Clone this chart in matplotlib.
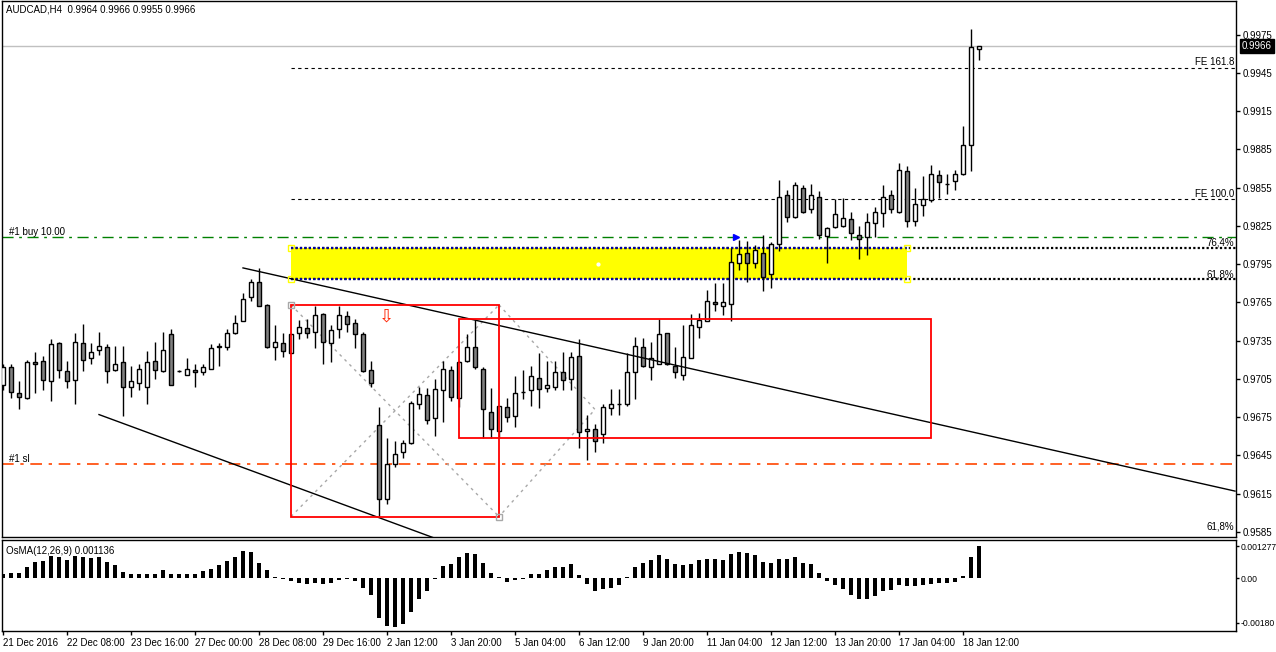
import numpy as np
import matplotlib
matplotlib.use("Agg")
import matplotlib.pyplot as plt
import matplotlib.transforms as mtransforms
from matplotlib.patches import Rectangle

plt.rcParams["font.family"] = ["Liberation Sans", "DejaVu Sans"]

# AUDCAD H4 candles, 21 Dec 2016 .. 18 Jan 2017 (one bar = 4 hours)
opens = [0.9700, 0.9714, 0.9694, 0.9690, 0.9718, 0.9719, 0.9703, 0.9733, 0.9711, 0.9704,
         0.9733, 0.9721, 0.9728, 0.9730, 0.9712, 0.9718, 0.9699, 0.9702, 0.9699, 0.9719,
         0.9711, 0.9740, 0.9711, 0.9708, 0.9712, 0.9710, 0.9713, 0.9731, 0.9730, 0.9741,
         0.9750, 0.9769, 0.9781, 0.9763, 0.9730, 0.9733, 0.9725, 0.9741, 0.9745, 0.9742,
         0.9756, 0.9733, 0.9744, 0.9754, 0.9749, 0.9740, 0.9712, 0.9669, 0.9611, 0.9638,
         0.9648, 0.9655, 0.9685, 0.9692, 0.9674, 0.9696, 0.9712, 0.9690, 0.9719, 0.9730,
         0.9713, 0.9679, 0.9664, 0.9683, 0.9676, 0.9695, 0.9696, 0.9706, 0.9698, 0.9699,
         0.9710, 0.9705, 0.9723, 0.9664, 0.9666, 0.9662, 0.9682, 0.9685, 0.9685, 0.9710,
         0.9730, 0.9714, 0.9717, 0.9741, 0.9715, 0.9708, 0.9721, 0.9746, 0.9750, 0.9765,
         0.9762, 0.9764, 0.9796, 0.9804, 0.9796, 0.9804, 0.9787, 0.9811, 0.9849, 0.9832,
         0.9855, 0.9838, 0.9848, 0.9817, 0.9824, 0.9825, 0.9830, 0.9818, 0.9816, 0.9827,
         0.9835, 0.9849, 0.9836, 0.9868, 0.9829, 0.9841, 0.9845, 0.9865, 0.9858, 0.9860,
         0.9866, 0.9888, 0.9964]
highs = [0.9717, 0.9717, 0.9703, 0.9720, 0.9726, 0.9723, 0.9736, 0.9734, 0.9719, 0.9741,
         0.9748, 0.9733, 0.9742, 0.9732, 0.9731, 0.9731, 0.9715, 0.9717, 0.9727, 0.9734,
         0.9742, 0.9744, 0.9712, 0.9721, 0.9717, 0.9717, 0.9732, 0.9733, 0.9744, 0.9755,
         0.9772, 0.9783, 0.9792, 0.9764, 0.9747, 0.9741, 0.9740, 0.9751, 0.9752, 0.9762,
         0.9757, 0.9747, 0.9762, 0.9758, 0.9752, 0.9742, 0.9719, 0.9683, 0.9659, 0.9656,
         0.9657, 0.9688, 0.9699, 0.9698, 0.9705, 0.9719, 0.9715, 0.9719, 0.9740, 0.9751,
         0.9714, 0.9698, 0.9684, 0.9690, 0.9707, 0.9712, 0.9715, 0.9725, 0.9719, 0.9719,
         0.9726, 0.9726, 0.9736, 0.9677, 0.9670, 0.9685, 0.9697, 0.9697, 0.9725, 0.9738,
         0.9737, 0.9734, 0.9752, 0.9741, 0.9730, 0.9747, 0.9756, 0.9757, 0.9775, 0.9780,
         0.9780, 0.9808, 0.9814, 0.9813, 0.9810, 0.9818, 0.9812, 0.9861, 0.9853, 0.9859,
         0.9857, 0.9858, 0.9852, 0.9824, 0.9846, 0.9847, 0.9836, 0.9825, 0.9835, 0.9840,
         0.9857, 0.9853, 0.9874, 0.9872, 0.9855, 0.9864, 0.9873, 0.9869, 0.9866, 0.9869,
         0.9903, 0.9979, 0.9966]
lows = [0.9696, 0.9690, 0.9681, 0.9689, 0.9694, 0.9696, 0.9688, 0.9706, 0.9698, 0.9685,
        0.9711, 0.9717, 0.9724, 0.9702, 0.9711, 0.9676, 0.9691, 0.9696, 0.9685, 0.9705,
        0.9710, 0.9700, 0.9710, 0.9708, 0.9699, 0.9708, 0.9713, 0.9715, 0.9728, 0.9740,
        0.9750, 0.9766, 0.9762, 0.9729, 0.9720, 0.9722, 0.9725, 0.9736, 0.9737, 0.9729,
        0.9717, 0.9718, 0.9737, 0.9742, 0.9729, 0.9710, 0.9699, 0.9597, 0.9607, 0.9636,
        0.9643, 0.9654, 0.9681, 0.9670, 0.9660, 0.9671, 0.9688, 0.9683, 0.9718, 0.9713,
        0.9659, 0.9659, 0.9659, 0.9671, 0.9667, 0.9689, 0.9684, 0.9682, 0.9695, 0.9696,
        0.9696, 0.9696, 0.9651, 0.9641, 0.9648, 0.9655, 0.9677, 0.9677, 0.9684, 0.9689,
        0.9714, 0.9704, 0.9717, 0.9716, 0.9706, 0.9704, 0.9721, 0.9737, 0.9750, 0.9758,
        0.9755, 0.9750, 0.9790, 0.9781, 0.9792, 0.9774, 0.9776, 0.9805, 0.9828, 0.9831,
        0.9835, 0.9835, 0.9815, 0.9796, 0.9823, 0.9824, 0.9814, 0.9799, 0.9802, 0.9816,
        0.9824, 0.9835, 0.9835, 0.9824, 0.9825, 0.9833, 0.9844, 0.9847, 0.9850, 0.9853,
        0.9865, 0.9868, 0.9955]
closes = [0.9714, 0.9695, 0.9691, 0.9718, 0.9717, 0.9704, 0.9732, 0.9712, 0.9703, 0.9734,
          0.9720, 0.9726, 0.9731, 0.9711, 0.9717, 0.9699, 0.9703, 0.9713, 0.9718, 0.9712,
          0.9728, 0.9700, 0.9711, 0.9713, 0.9710, 0.9714, 0.9729, 0.9730, 0.9741, 0.9749,
          0.9768, 0.9781, 0.9762, 0.9730, 0.9734, 0.9727, 0.9740, 0.9746, 0.9741, 0.9755,
          0.9734, 0.9743, 0.9755, 0.9748, 0.9740, 0.9711, 0.9702, 0.9611, 0.9638, 0.9646,
          0.9655, 0.9686, 0.9693, 0.9673, 0.9697, 0.9713, 0.9691, 0.9718, 0.9730, 0.9714,
          0.9681, 0.9666, 0.9684, 0.9675, 0.9694, 0.9695, 0.9707, 0.9697, 0.9700, 0.9710,
          0.9704, 0.9722, 0.9663, 0.9666, 0.9656, 0.9683, 0.9685, 0.9685, 0.9710, 0.9731,
          0.9715, 0.9721, 0.9740, 0.9717, 0.9710, 0.9722, 0.9747, 0.9751, 0.9766, 0.9764,
          0.9765, 0.9797, 0.9803, 0.9796, 0.9806, 0.9785, 0.9811, 0.9848, 0.9832, 0.9857,
          0.9836, 0.9849, 0.9818, 0.9823, 0.9834, 0.9831, 0.9819, 0.9815, 0.9828, 0.9836,
          0.9848, 0.9838, 0.9869, 0.9829, 0.9842, 0.9846, 0.9866, 0.9859, 0.9858, 0.9866,
          0.9888, 0.9965, 0.9966]

# OsMA(12,26,9) histogram, in units of 1e-4
osma = [1.7, 2.0, 2.0, 4.4, 6.4, 6.7, 8.7, 8.4, 7.3, 8.7,
        8.4, 8.1, 8.4, 6.4, 5.2, 2.5, 1.7, 1.7, 1.7, 1.7,
        3.1, 1.7, 1.7, 1.7, 1.7, 2.7, 3.7, 5.3, 6.7, 8.4,
        10.7, 10.4, 6.1, 3.3, 0.3, -0.2, -1.3, -2.0, -2.3, -2.0,
        -2.3, -2.0, -0.7, -0.5, -1.2, -3.9, -6.9, -15.9, -19.3, -19.6,
        -18.5, -13.6, -8.3, -5.3, -0.5, 4.7, 5.7, 8.4, 10.1, 9.7,
        6.1, 2.1, 0.4, -1.6, -0.7, -0.5, 1.7, 1.7, 3.1, 4.4,
        4.4, 5.5, 1.1, -2.3, -5.2, -4.5, -3.9, -2.9, 0.4, 4.4,
        6.1, 7.3, 9.1, 7.7, 5.5, 5.3, 5.7, 7.3, 7.7, 7.7,
        7.3, 9.5, 10.4, 10.1, 9.3, 6.4, 6.0, 7.7, 7.5, 8.4,
        6.1, 5.5, 2.0, -1.2, -2.7, -4.3, -6.9, -8.5, -8.5, -7.2,
        -5.3, -4.9, -2.9, -3.2, -3.2, -2.9, -2.3, -1.9, -1.9, -1.6,
        0.8, 8.4, 12.7]

time_labels = ["21 Dec 2016", "22 Dec 08:00", "23 Dec 16:00", "27 Dec 00:00",
               "28 Dec 08:00", "29 Dec 16:00", "2 Jan 12:00", "3 Jan 20:00",
               "5 Jan 04:00", "6 Jan 12:00", "9 Jan 20:00", "11 Jan 04:00",
               "12 Jan 12:00", "13 Jan 20:00", "17 Jan 04:00", "18 Jan 12:00"]
bars_per_label = 8

price_ticks = [0.9975, 0.9945, 0.9915, 0.9885, 0.9855, 0.9825, 0.9795,
               0.9765, 0.9735, 0.9705, 0.9675, 0.9645, 0.9615, 0.9585]
osma_ticks = [0.001277, 0.0, -0.0018]
osma_tick_text = ["0.001277", "0.00", "-0.00180"]

# objects on the chart (bar index, price)
last_price = 0.9966
fe_levels = {"FE 161.8": 0.9949, "FE 100.0": 0.9846}
fib_levels = {"76,4%": 0.9808, "61,8%": 0.9783}
buy_level = 0.9816
sl_level = 0.9638
zone = (36, 113)                      # yellow zone bars, between the two fib levels
box1 = (36, 62, 0.9597, 0.9763)       # red rectangles: bar0, bar1, low, high
box2 = (57, 116, 0.9659, 0.9752)
trend_upper = [(30, 0.9792), (154, 0.9617)]
trend_lower = [(12, 0.9677), (54, 0.9580)]
pattern = [[(36, 0.9763), (62, 0.9597)],
           [(36, 0.9597), (62, 0.9763)],
           [(62, 0.9763), (74, 0.9681), (62, 0.9597)]]
buy_arrow = (91.6, 0.9816)
sell_arrow = (47.9, 0.9754)

FS = 7
W, H = 1276, 652
fig = plt.figure(figsize=(W / 100, H / 100), dpi=100)


def px_axes(x0, y0, x1, y1):
    return fig.add_axes([x0 / W, 1 - y1 / H, (x1 - x0) / W, (y1 - y0) / H])


ax = px_axes(2, 0.5, 1236, 537)
ax2 = px_axes(2, 540, 1236, 631)

o = np.array(opens)
c = np.array(closes)
x = np.arange(len(o))
up = c >= o

ax.add_patch(Rectangle((zone[0], fib_levels["61,8%"]), zone[1] - zone[0],
                       fib_levels["76,4%"] - fib_levels["61,8%"],
                       facecolor="#FFFF00", edgecolor="none", zorder=1))

ax.vlines(x, lows, highs, color="black", lw=1, zorder=3)
ax.bar(x, np.abs(c - o), bottom=np.minimum(o, c), width=0.62,
       color=np.where(up, "white", "#808080"), edgecolor="black", lw=1, zorder=4)

xmin, xmax = -0.125, 154.125
ax.axhline(last_price, color="#C0C0C0", lw=1, zorder=2)
for name, lvl in fe_levels.items():
    ax.hlines(lvl, zone[0], xmax, color="black", lw=0.8, ls=(0, (3, 3)), zorder=2)
for name, lvl in fib_levels.items():
    ax.hlines(lvl, zone[0], xmax, color="black", lw=1.6, ls=(0, (1, 1)), zorder=2)
    ax.hlines(lvl, zone[0], zone[1], color="#0000A0", lw=1.6, ls=(0, (1, 1)), zorder=2)
ax.axhline(buy_level, color="#008000", lw=1, ls=(0, (8, 4, 2, 4)), zorder=2)
ax.axhline(sl_level, color="#FF4500", lw=1.2, ls=(0, (7, 4, 2, 4)), zorder=2)

for seg in (trend_upper, trend_lower):
    ax.plot([p[0] for p in seg], [p[1] for p in seg], color="black", lw=1, zorder=5)
for seg in pattern:
    ax.plot([p[0] for p in seg], [p[1] for p in seg], color="#A8A8A8", lw=1,
            ls=(0, (2, 3)), zorder=2)

for b0, b1, lo, hi in (box1, box2):
    ax.add_patch(Rectangle((b0, lo), b1 - b0, hi - lo, fill=False,
                           edgecolor="#FF0000", lw=1.3, zorder=5))

# selection handles
ax.plot([zone[0], zone[0], zone[1], zone[1]],
        [fib_levels["76,4%"], fib_levels["61,8%"]] * 2,
        ls="none", marker="s", ms=4, mfc="none", mec="#FFFF00", mew=1, zorder=6)
ax.plot([box1[0], box1[1]], [box1[3], box1[2]], ls="none", marker="s", ms=4,
        mfc="none", mec="#A8A8A8", mew=1, zorder=6)
ax.plot(74.4, 0.9795, marker="o", ms=2, color="white", zorder=6)

ax.plot(*buy_arrow, marker=">", ms=5, color="#0000FF", zorder=7)
ax.text(*sell_arrow, "\u21e9", color="#FF2000", fontsize=13, ha="center",
        va="center", zorder=7, family="DejaVu Sans")

right = mtransforms.blended_transform_factory(ax.transAxes, ax.transData)
for name, lvl in list(fe_levels.items()) + list(fib_levels.items()):
    ax.text(0.9985, lvl + 0.00003, name, transform=right, ha="right", va="bottom",
            fontsize=FS, zorder=8)
ax.text(0.9985, 0.9589, "61,8%", transform=right, ha="right", va="center",
        fontsize=FS)
ax.text(0.006, buy_level + 0.00003, "#1 buy 10.00", transform=right, ha="left",
        va="bottom", fontsize=FS)
ax.text(0.006, sl_level + 0.00003, "#1 sl", transform=right, ha="left",
        va="bottom", fontsize=FS)

ax.set_xlim(xmin, xmax)
ax.set_ylim(0.95810, 1.00017)
ax.set_xticks([])
ax.yaxis.tick_right()
ax.set_yticks(price_ticks)
ax.set_yticklabels([f"{p:.4f}" for p in price_ticks])
ax.tick_params(axis="y", direction="out", length=3, width=1, labelsize=FS, pad=2)
ax.annotate(f"{last_price:.4f}", xy=(1.0, last_price), xycoords=right,
            xytext=(4, 0), textcoords="offset points", ha="left", va="center",
            fontsize=FS, color="white",
            bbox=dict(boxstyle="square,pad=0.2", fc="black", ec="black"))

fig.text(6 / W, 1 - 10 / H, "AUDCAD,H4  0.9964 0.9966 0.9955 0.9966",
         fontsize=FS, va="center")

# OsMA panel
ov = np.array(osma) * 1e-4
ax2.bar(x, ov, width=0.4, color="black")
ax2.set_xlim(xmin, xmax)
ax2.set_ylim(-21.2e-4, 15.2e-4)
ax2.yaxis.tick_right()
ax2.set_yticks(osma_ticks)
ax2.set_yticklabels(osma_tick_text)
ax2.tick_params(axis="y", direction="out", length=2, width=1, labelsize=6.2, pad=1)
ax2.set_xticks(np.arange(len(time_labels)) * bars_per_label)
ax2.set_xticklabels(time_labels)
ax2.tick_params(axis="x", direction="out", length=3, width=1, labelsize=FS, pad=2)
for lbl in ax2.get_xticklabels():
    lbl.set_ha("left")
ax2.text(4 / 1234, 0.93, "OsMA(12,26,9) 0.001136", transform=ax2.transAxes,
         fontsize=FS, va="top")

for a in (ax, ax2):
    for s in a.spines.values():
        s.set_color("black")
        s.set_linewidth(1)

fig.savefig("out.png", dpi=100)
